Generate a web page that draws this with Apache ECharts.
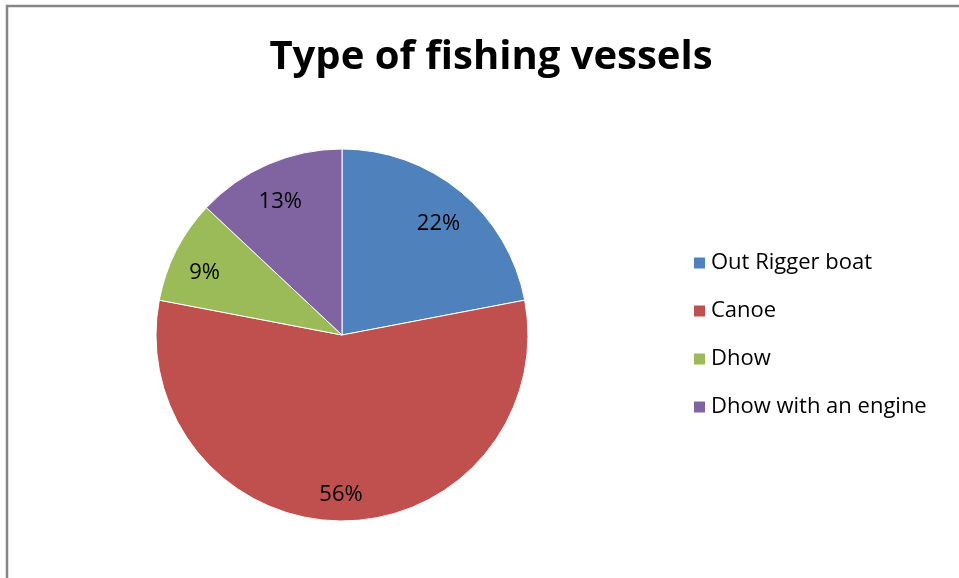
<!DOCTYPE html>
<html>
<head>
<meta charset="utf-8">
<script src="https://cdn.jsdelivr.net/npm/echarts@6/dist/echarts.min.js"></script>
<style>
  html, body { margin: 0; padding: 0; background: #fff; }
  #chart { width: 959px; height: 578px; }
</style>
</head>
<body>
<div id="chart"></div>
<script>
const categories = ["Out Rigger boat", "Canoe", "Dhow", "Dhow with an engine"];
const shares = [22, 56, 9, 13];
const colors = ["#4F81BD", "#C0504D", "#9BBB59", "#8064A2"];

const chart = echarts.init(document.getElementById("chart"));
const font = "Open Sans";
const pieData = categories.map((name, i) => ({
  name,
  value: shares[i],
  itemStyle: { color: colors[i] },
}));

chart.setOption({
  animation: false,
  backgroundColor: "#fff",
  title: {
    text: "Type of fishing vessels",
    left: 486,
    top: 33,
    textAlign: "center",
    textStyle: { fontFamily: font, fontSize: 40, fontWeight: "bold", color: "#000" },
  },
  legend: {
    orient: "vertical",
    left: 692,
    top: 252,
    padding: 0,
    itemWidth: 13,
    itemHeight: 13,
    itemGap: 26,
    icon: "rect",
    data: categories,
    textStyle: { fontFamily: font, fontSize: 22, color: "#000", lineHeight: 22 },
  },
  graphic: [
    {
      type: "polyline",
      shape: { points: [[7, 600], [7, 6], [970, 6]] },
      style: { stroke: "#868686", lineWidth: 2.5, fill: null },
    },
  ],
  series: [
    {
      type: "pie",
      center: [342, 335],
      radius: [0, 186],
      startAngle: 90,
      clockwise: true,
      silent: true,
      label: { show: false },
      labelLine: { show: false },
      itemStyle: { borderColor: "#fff", borderWidth: 1 },
      data: pieData,
    },
    {
      type: "pie",
      center: [341, 342],
      radius: [114, 186],
      startAngle: 90,
      clockwise: true,
      silent: true,
      legendHoverLink: false,
      itemStyle: { color: "rgba(0,0,0,0)", borderWidth: 0 },
      label: {
        show: true,
        position: "inside",
        formatter: "{c}%",
        fontFamily: font,
        fontSize: 22,
        color: "#000",
      },
      labelLine: { show: false },
      data: categories.map((name, i) => ({ name: name + " ", value: shares[i] })),
    },
  ],
});
</script>
</body>
</html>
